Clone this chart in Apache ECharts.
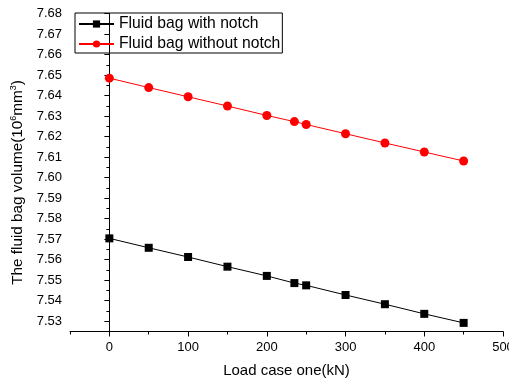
<!DOCTYPE html>
<html><head><meta charset="utf-8">
<script src="https://cdn.jsdelivr.net/npm/echarts@6/dist/echarts.min.js"></script>
<style>html,body{margin:0;padding:0;background:#fff}#c{width:509px;height:383px}</style>
</head><body><div id="c"></div>
<script>
var loads = [0, 50, 100, 150, 200, 235, 250, 300, 350, 400, 450];
var withNotch = [7.5704, 7.5658, 7.5613, 7.5566, 7.5521, 7.5486, 7.5475, 7.5428, 7.5383, 7.5336, 7.5292];
var withoutNotch = [7.6485, 7.6439, 7.6394, 7.6349, 7.6303, 7.6273, 7.6259, 7.6214, 7.6169, 7.6125, 7.6081];
var yMajor = [7.53, 7.54, 7.55, 7.56, 7.57, 7.58, 7.59, 7.60, 7.61, 7.62, 7.63, 7.64, 7.65, 7.66, 7.67, 7.68];
var yMinor = [7.525, 7.535, 7.545, 7.555, 7.565, 7.575, 7.585, 7.595, 7.605, 7.615, 7.625, 7.635, 7.645, 7.655, 7.665, 7.675];
var xMajor = [0, 100, 200, 300, 400, 500];
var xMinor = [-50, 50, 150, 250, 350, 450];
var seriesNames = ['Fluid bag with notch', 'Fluid bag without notch'];

var font = 'Liberation Sans, Arial, sans-serif';
var chart = echarts.init(document.getElementById('c'), null, {renderer: 'canvas'});
function pairs(xs, ys) { return xs.map(function (x, i) { return [x, ys[i]]; }); }
var axisLine = {show: true, lineStyle: {color: '#000', width: 1}};
chart.setOption({
  animation: false,
  backgroundColor: '#fff',
  grid: {left: 70, right: 6, top: 13.5, bottom: 51.5, containLabel: false, outerBoundsMode: 'none'},
  legend: {
    orient: 'vertical', left: 75, top: 13,
    borderColor: '#000', borderWidth: 1, padding: [3, 2, 1, 3],
    itemGap: 4, itemWidth: 35, itemHeight: 9,
    textStyle: {fontFamily: font, fontSize: 15.7, color: '#000', padding: [0, 0, 0, 0]},
    data: seriesNames
  },
  xAxis: [{
    type: 'value', min: -50, max: 500,
    axisLine: axisLine, splitLine: {show: false},
    axisTick: {show: true, length: 5, customValues: xMajor, lineStyle: {color: '#000'}},
    axisLabel: {customValues: xMajor, fontFamily: font, fontSize: 13, color: '#000', margin: 9},
    name: 'Load case one(kN)', nameLocation: 'middle', nameGap: 32,
    nameTextStyle: {fontFamily: font, fontSize: 15, color: '#000'}
  }, {
    type: 'value', min: -50, max: 500, position: 'bottom',
    axisLine: {show: false}, splitLine: {show: false},
    axisTick: {show: true, length: 3, customValues: xMinor, lineStyle: {color: '#000'}},
    axisLabel: {show: false}
  }],
  yAxis: [{
    type: 'value', min: 7.525, max: 7.68,
    axisLine: axisLine, splitLine: {show: false},
    axisTick: {show: true, length: 5, customValues: yMajor, lineStyle: {color: '#000'}},
    axisLabel: {customValues: yMajor, fontFamily: font, fontSize: 13, color: '#000', margin: 8,
      formatter: function (v) { return v.toFixed(2); }},
    name: '{a|The fluid bag volume(10}{s|6}{a|mm}{s|3}{a|)}', nameLocation: 'middle', nameGap: 44,
    nameTextStyle: {fontFamily: font, fontSize: 15, color: '#000', padding: [0, 20, 0, 0],
      rich: {
        a: {fontFamily: font, fontSize: 15.3, color: '#000'},
        s: {fontFamily: font, fontSize: 9, color: '#000', padding: [0, 0, 8, 0]}
      }}
  }, {
    type: 'value', min: 7.525, max: 7.68, position: 'left',
    axisLine: {show: false}, splitLine: {show: false},
    axisTick: {show: true, length: 3, customValues: yMinor, lineStyle: {color: '#000'}},
    axisLabel: {show: false}
  }],
  series: [{
    name: seriesNames[0], type: 'line', data: pairs(loads, withNotch),
    symbol: 'rect', symbolSize: 8,
    lineStyle: {color: '#000', width: 1}, itemStyle: {color: '#000'}
  }, {
    name: seriesNames[1], type: 'line', data: pairs(loads, withoutNotch),
    symbol: 'circle', symbolSize: 9,
    lineStyle: {color: '#ff0000', width: 1}, itemStyle: {color: '#ff0000'}
  }]
});
</script></body></html>
